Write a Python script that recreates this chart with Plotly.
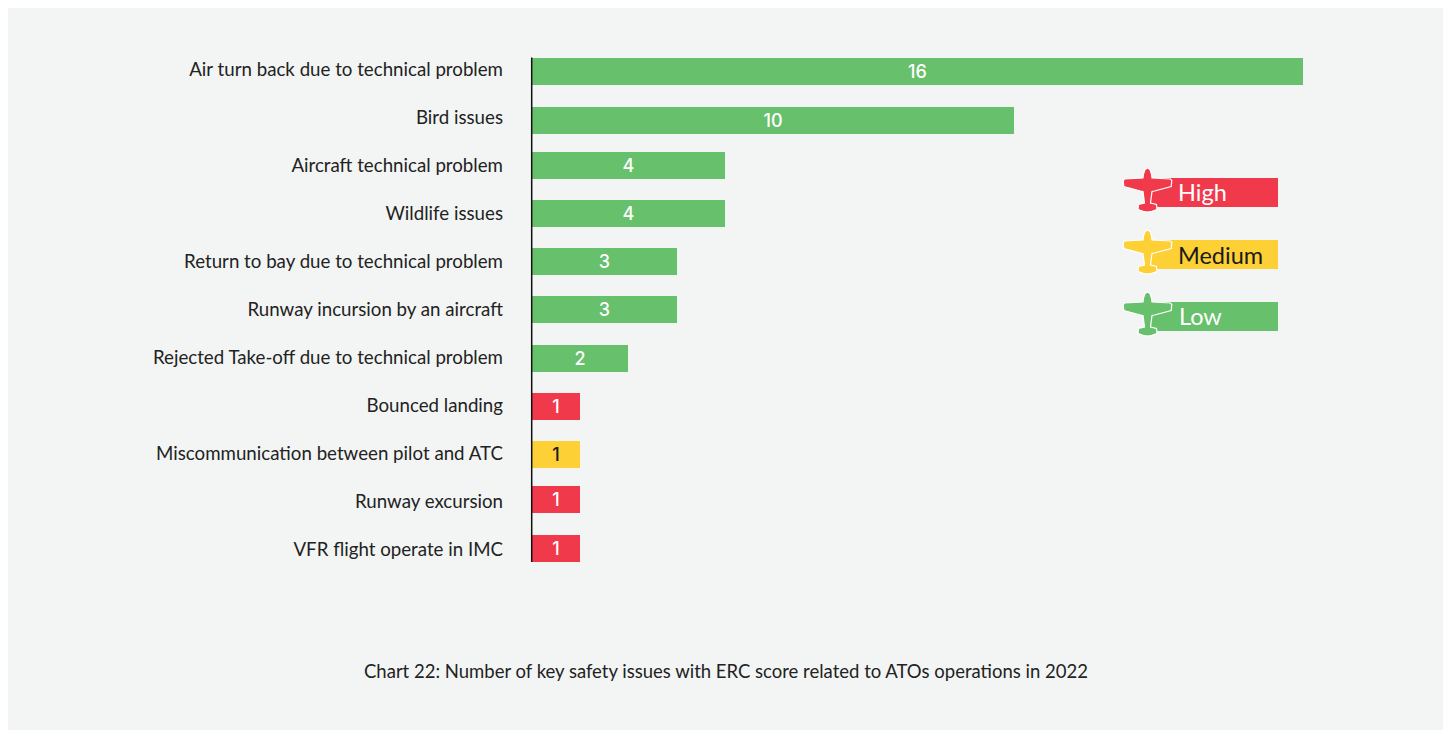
import plotly.graph_objects as go

categories = ["Air turn back due to technical problem", "Bird issues", "Aircraft technical problem",
              "Wildlife issues", "Return to bay due to technical problem", "Runway incursion by an aircraft",
              "Rejected Take-off due to technical problem", "Bounced landing",
              "Miscommunication between pilot and ATC", "Runway excursion", "VFR flight operate in IMC"]
values = [16, 10, 4, 4, 3, 3, 2, 1, 1, 1, 1]
severity = ["Low", "Low", "Low", "Low", "Low", "Low", "Low", "High", "Medium", "High", "High"]
legend_levels = ["High", "Medium", "Low"]

COL = {"High": "#f0394b", "Medium": "#fdd036", "Low": "#67c06b"}
TXT = {"High": "#ffffff", "Medium": "#1a1a1a", "Low": "#ffffff"}
PANEL = "#f3f5f4"
INK = "#222222"
FONT = "Lato"
W, H = 1435, 722
OX, OY = 8, 8
# the source bars sit slightly off their label rows (fraction of a row)
row_nudge = [0.04, 0.06, -0.01, -0.01, -0.01, -0.01, 0.02, 0.02, 0.02, -0.05, -0.03]
BAR_W = 27 / 48


def px(x):
    return (x - OX) / W


def py(y):
    return 1 - (y - OY) / H


half = [(0, -22), (2.5, -20.5), (4, -16), (4.5, -12), (23, -11), (24.3, -9.5), (23.7, -3.5), (7, 1), (4.5, 1.5),
        (3, 13), (9, 14.5), (9.5, 19.5), (3, 21.7), (0, 22)]
plane = half + [(-a, b) for a, b in reversed(half[1:-1])]


def plane_path(cx, cy):
    pts = [(px(cx + a), py(cy + b)) for a, b in plane]
    return "M" + "L".join(f"{a:.5f},{b:.5f}" for a, b in pts) + "Z"


fig = go.Figure(go.Bar(
    y=categories, x=values, orientation="h",
    marker=dict(color=[COL[s] for s in severity], line_width=0),
    width=BAR_W, offset=[n - BAR_W / 2 for n in row_nudge],
    text=values, textposition="inside", insidetextanchor="middle", textangle=0,
    insidetextfont=dict(family="Inter", size=18, weight=500, color=[TXT[s] for s in severity]),
    cliponaxis=False, hoverinfo="skip",
))

shapes = [dict(type="line", xref="paper", yref="paper", x0=px(531.7), x1=px(531.7), y0=py(57.5), y1=py(562),
               line=dict(color="#111111", width=1.5))]
annotations = [dict(text="Chart 22: Number of key safety issues with ERC score related to ATOs operations in 2022",
                    xref="paper", yref="paper", x=px(726), y=py(671), xanchor="center", yanchor="middle",
                    showarrow=False, font=dict(family=FONT, size=18.5, color=INK))]
for lvl, top, tx, dy in zip(legend_levels, [178, 240, 302], [1177, 1177, 1178], [13.5, 14.5, 13.5]):
    shapes.append(dict(type="rect", xref="paper", yref="paper", x0=px(1147), x1=px(1278), y0=py(top), y1=py(top + 29),
                       fillcolor=COL[lvl], line_width=0))
    shapes.append(dict(type="path", xref="paper", yref="paper", path=plane_path(1147.5, top + 12),
                       fillcolor=COL[lvl], line=dict(color="#ffffff", width=1.2)))
    annotations.append(dict(text=lvl, xref="paper", yref="paper", x=px(tx - 1.5), y=py(top + dy), xanchor="left",
                            yanchor="middle", showarrow=False, font=dict(family=FONT, size=23.5, color=TXT[lvl])))

fig.update_layout(
    width=W, height=H, margin=dict(l=0, r=0, t=0, b=0), paper_bgcolor=PANEL, plot_bgcolor=PANEL,
    showlegend=False, bargap=0, shapes=shapes, annotations=annotations,
    xaxis=dict(domain=[px(532), px(1303)], range=[0, 16], visible=False, fixedrange=True),
    yaxis=dict(domain=[py(573.75), py(45.75)], range=[10.5, -0.5], type="category", showgrid=False, zeroline=False,
               showline=False, ticks="", ticklabelstandoff=28, fixedrange=True,
               tickfont=dict(family=FONT, size=18.7, color=INK), anchor="x"),
)
fig.write_html("out.html", config=dict(displayModeBar=False),
               post_script="document.documentElement.style.overflow='hidden';document.body.style.margin='8px 0 0 8px';document.body.style.overflow='visible';")
